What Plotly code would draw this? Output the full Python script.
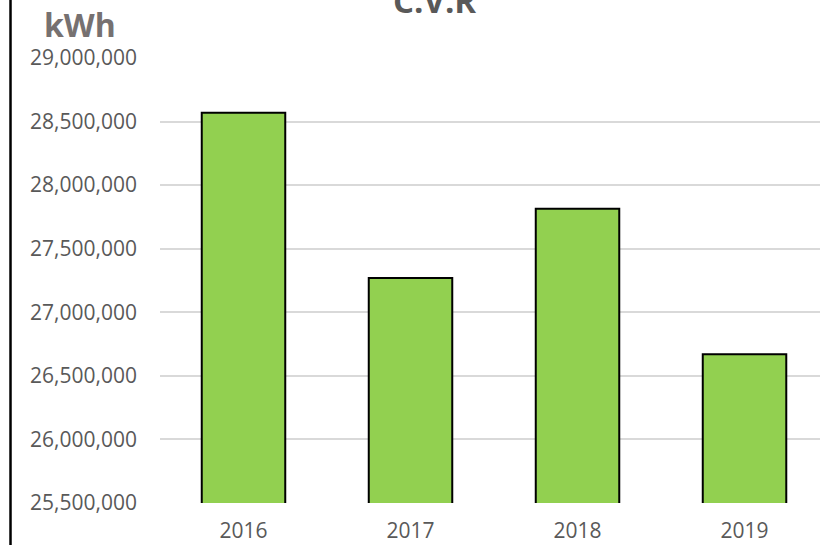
import plotly.graph_objects as go

# dados
anos = ["2016", "2017", "2018", "2019"]
consumo_kwh = [28570000, 27270000, 27815000, 26670000]
y_ticks = [25500000, 26000000, 26500000, 27000000, 27500000, 28000000, 28500000, 29000000]

fig = go.Figure()
fig.add_trace(go.Bar(
    x=anos,
    y=consumo_kwh,
    width=0.5,
    marker=dict(color="#92D050", line=dict(color="#000000", width=2)),
))

fig.update_layout(
    width=820,
    height=545,
    paper_bgcolor="white",
    plot_bgcolor="white",
    margin=dict(l=160, r=0, t=58, b=42),
    showlegend=False,
    font=dict(family="Open Sans", size=21, color="#595959"),
    title=dict(
        text="<b>C.V.R</b>",
        x=0.53, xanchor="center",
        y=0.998, yanchor="middle",
        font=dict(family="Open Sans", size=33, color="#595959"),
    ),
    annotations=[dict(
        text="<b>kWh</b>",
        xref="paper", yref="paper",
        x=-0.1212, y=1.0753,
        xanchor="center", yanchor="middle",
        showarrow=False,
        font=dict(family="Open Sans", size=32, color="#767171"),
    )],
    shapes=[dict(
        type="line", xref="paper", yref="paper",
        x0=-0.2265, x1=-0.2265, y0=-0.2, y1=1.3,
        line=dict(color="#000000", width=2.5),
    )],
)

fig.update_xaxes(
    type="category",
    range=[-0.5, 3.452],
    showgrid=False,
    showline=False,
    ticks="",
    ticklabelstandoff=13,
)
fig.update_yaxes(
    range=[25500000, 29000000],
    tickvals=y_ticks,
    tickformat=",d",
    showgrid=True,
    gridcolor="#D9D9D9",
    gridwidth=1.5,
    zeroline=False,
    showline=False,
    ticks="",
    ticklabelstandoff=22,
)

# tira a margem padrão do body para o gráfico ficar colado no canto
fig.write_html(
    "out.html",
    config={"displayModeBar": False},
    post_script="document.body.style.margin='0';document.body.style.overflow='hidden';",
)
